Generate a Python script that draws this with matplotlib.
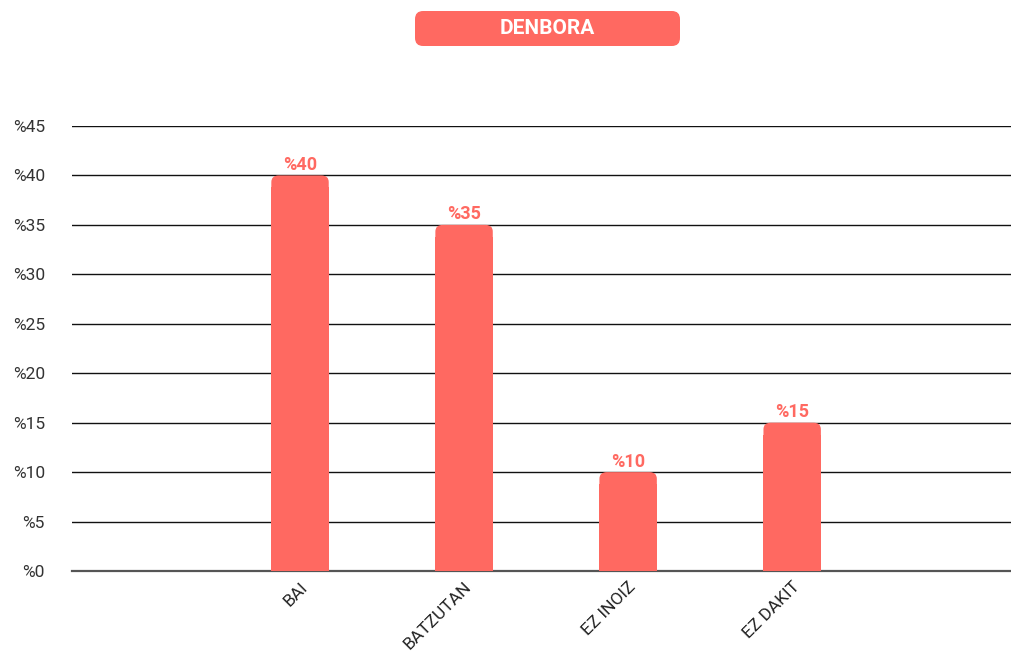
import matplotlib
matplotlib.use('Agg')
import matplotlib.pyplot as plt
from matplotlib.patches import FancyBboxPatch, Rectangle

categories = ["BAI", "BATZUTAN", "EZ INOIZ", "EZ DAKIT"]
values = [40, 35, 10, 15]
yticks = [0, 5, 10, 15, 20, 25, 30, 35, 40, 45]
title = "DENBORA"

RED = "#ff6961"
plt.rcParams['font.family'] = ['Roboto', 'DejaVu Sans']

fig = plt.figure(figsize=(10.12, 6.52), dpi=100)
ax = fig.add_axes([72 / 1012, 81 / 652, 940 / 1012, 445 / 652])

xs = list(range(len(categories)))
bars = ax.bar(xs, values, width=0.35, color=RED, zorder=3)

# rounded tops: swap each bar for a rounded box + square bottom
for b in bars:
    b.set_visible(False)
    x0, w, h = b.get_x(), b.get_width(), b.get_height()
    ax.add_patch(FancyBboxPatch((x0, 0), w, h,
                                boxstyle="round,pad=0,rounding_size=0.045",
                                mutation_aspect=15, fc=RED, ec='none', zorder=3))
    ax.add_patch(Rectangle((x0, 0), w, h - 1.2, fc=RED, ec='none', zorder=3))

for x, v in zip(xs, values):
    ax.text(x, v + 0.15, f"%{v}", ha='center', va='bottom', color=RED,
            fontsize=13, fontweight='bold', zorder=4)

ax.set_xlim(-1.39, 3 + 1.34)
ax.set_ylim(0, 45)
ax.set_yticks(yticks)
ax.set_yticklabels([f"%{t}" for t in yticks])
ax.set_xticks(xs)
ax.set_xticklabels(categories, rotation=45, ha='right', rotation_mode='anchor')
ax.tick_params(axis='y', length=0, pad=19.5, labelsize=12.5, labelcolor='#333333')
ax.tick_params(axis='x', length=0, pad=6, labelsize=12.5, labelcolor='#222222')

ax.yaxis.grid(True, color='#111111', linewidth=1, zorder=1)
ax.set_axisbelow(True)
for s in ['top', 'right', 'left']:
    ax.spines[s].set_visible(False)
ax.spines['bottom'].set_color('#555555')
ax.spines['bottom'].set_linewidth(1.6)
ax.spines['bottom'].set_zorder(2)

# title badge
fig.patches.append(FancyBboxPatch((415 / 1012, 606 / 652), 265 / 1012, 35 / 652,
                                  boxstyle="round,pad=0,rounding_size=0.008",
                                  mutation_aspect=1012 / 652,
                                  transform=fig.transFigure, fc=RED, ec='none'))
fig.text(547 / 1012, 623.5 / 652, title, ha='center', va='center', color='white',
         fontsize=15, fontweight='bold')

fig.savefig("out.png", dpi=100)
